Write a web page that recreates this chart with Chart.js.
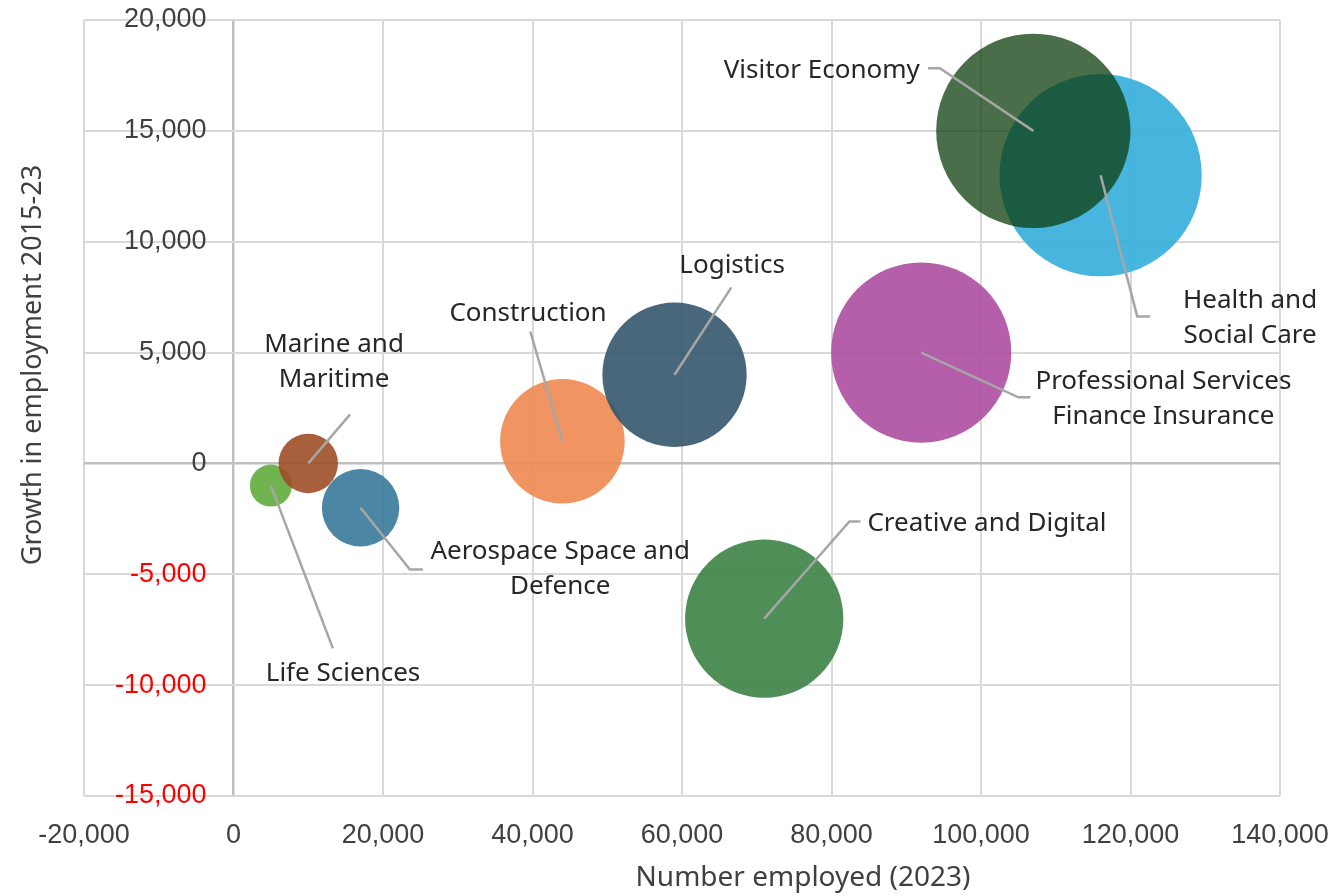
<!DOCTYPE html>
<html>
<head>
<meta charset="utf-8">
<script src="https://cdn.jsdelivr.net/npm/chart.js@4.4.1/dist/chart.umd.min.js"></script>
<style>
  body { margin: 0; background: #fff; }
  #wrap { width: 1333px; height: 896px; }
</style>
</head>
<body>
<div id="wrap"><canvas id="myChart"></canvas></div>
<script>
//data block
const sectors = ['Life Sciences', 'Marine and Maritime', 'Aerospace Space and Defence', 'Construction',
  'Logistics', 'Creative and Digital', 'Professional Services Finance Insurance',
  'Health and Social Care', 'Visitor Economy'];
const employed = [5000, 10000, 17000, 44000, 59000, 71000, 92000, 116000, 107000];
const growth = [-1000, 0, -2000, 1000, 4000, -7000, 5000, 13000, 15000];

//style block
const colors = [
  'rgba(96, 172, 60, 0.9)',
  'rgba(158, 78, 38, 0.9)',
  'rgba(55, 122, 155, 0.9)',
  'rgba(238, 136, 80, 0.9)',
  'rgba(52, 87, 107, 0.9)',
  'rgba(60, 130, 69, 0.9)',
  'rgba(173, 76, 160, 0.9)',
  'rgba(52, 173, 218, 0.9)',
  'rgba(14, 62, 14, 0.75)'
];
// label text, label centre and leader elbow in axis units, stub in px
const labelLayout = [
  {lines: ['Life Sciences'], lx: 14650, ly: -9470, ex: 13300, ey: -8340, stub: 0},
  {lines: ['Marine and', 'Maritime'], lx: 13450, ly: 4550, ex: 15600, ey: 2210, stub: 0},
  {lines: ['Aerospace Space and', 'Defence'], lx: 43700, ly: -4780, ex: 23600, ey: -4780, stub: 13},
  {lines: ['Construction'], lx: 39400, ly: 6770, ex: 39700, ey: 5950, stub: 0},
  {lines: ['Logistics'], lx: 66700, ly: 8930, ex: 66600, ey: 7940, stub: 0},
  {lines: ['Creative and Digital'], lx: 100800, ly: -2700, ex: 82400, ey: -2620, stub: 11},
  {lines: ['Professional Services', 'Finance Insurance'], lx: 124400, ly: 2890, ex: 105000, ey: 2980, stub: 12},
  {lines: ['Health and', 'Social Care'], lx: 136000, ly: 6540, ex: 120900, ey: 6630, stub: 13},
  {lines: ['Visitor Economy'], lx: 78700, ly: 17720, ex: 94500, ey: 17820, stub: -12}
];

const labelFont = '26px "Noto Sans"';
const tickFont = '27px "Liberation Sans"';

// no extra chart-area padding for the bubble radius
Chart.BubbleController.prototype.getMaxOverflow = function () { return false; };

const data = {
  labels: sectors,
  datasets: [{
    data: employed.map((v, i) => ({x: v, y: growth[i], r: Math.sqrt(v) * 0.297})),
    backgroundColor: colors,
    borderWidth: 0,
    hoverRadius: 0
  }]
};

//custom drawing: y tick labels at x=0, axis titles, leader lines + labels
const bubbleLabels = {
  id: 'bubbleLabels',
  afterDatasetsDraw(chart) {
    const {ctx, scales: {x, y}} = chart;
    const pts = chart.getDatasetMeta(0).data;
    ctx.save();
    labelLayout.forEach((lab, i) => {
      const cx = pts[i].x, cy = pts[i].y;
      const ex = x.getPixelForValue(lab.ex), ey = y.getPixelForValue(lab.ey);
      ctx.strokeStyle = '#a6a6a6';
      ctx.lineWidth = 2.5;
      ctx.beginPath();
      ctx.moveTo(cx, cy);
      ctx.lineTo(ex, ey);
      if (lab.stub) ctx.lineTo(ex + lab.stub, ey);
      ctx.stroke();

      ctx.font = labelFont;
      ctx.fillStyle = '#262626';
      ctx.textAlign = 'center';
      ctx.textBaseline = 'middle';
      const lx = x.getPixelForValue(lab.lx), ly = y.getPixelForValue(lab.ly);
      const lh = 35;
      const top = ly - (lab.lines.length - 1) * lh / 2;
      lab.lines.forEach((t, k) => ctx.fillText(t, lx, top + k * lh));
    });
    ctx.restore();
  },
  afterDraw(chart) {
    const {ctx, scales: {x, y}} = chart;
    ctx.save();
    ctx.font = tickFont;
    ctx.textAlign = 'right';
    ctx.textBaseline = 'middle';
    const x0 = x.getPixelForValue(0);
    y.ticks.forEach(t => {
      ctx.fillStyle = t.value < 0 ? '#ff0000' : '#404040';
      ctx.fillText(t.value.toLocaleString('en-US'), x0 - 27, y.getPixelForValue(t.value));
    });

    ctx.font = '28px "Noto Sans"';
    ctx.fillStyle = '#404040';
    ctx.textAlign = 'center';
    ctx.fillText('Number employed (2023)', 803, 878);
    ctx.font = '27px "Noto Sans"';
    ctx.translate(33, 365);
    ctx.rotate(-Math.PI / 2);
    ctx.fillText('Growth in employment 2015-23', 0, 0);
    ctx.restore();
  }
};

const gridColor = c => c.tick && c.tick.value === 0 ? '#bfbfbf' : '#d9d9d9';
const gridWidth = c => c.tick && c.tick.value === 0 ? 2.5 : 2;

//options block
const options = {
  responsive: true,
  maintainAspectRatio: false,
  animation: false,
  layout: {padding: {top: 20, right: 53, left: 0, bottom: 0}},
  plugins: {
    legend: {display: false},
    tooltip: {enabled: false}
  },
  scales: {
    x: {
      type: 'linear',
      min: -20000,
      max: 140000,
      ticks: {
        stepSize: 20000,
        color: '#404040',
        font: {family: 'Liberation Sans', size: 27},
        padding: 2,
        maxRotation: 0,
        callback: v => v.toLocaleString('en-US')
      },
      grid: {color: gridColor, lineWidth: gridWidth, drawTicks: true, tickLength: 21, tickColor: 'rgba(0,0,0,0)'},
      border: {display: false},
      afterFit(scale) { scale.height = 100; }
    },
    y: {
      type: 'linear',
      min: -15000,
      max: 20000,
      ticks: {stepSize: 5000, display: false},
      grid: {color: gridColor, lineWidth: gridWidth, drawTicks: false},
      border: {display: false},
      afterFit(scale) { scale.width = 84; }
    }
  }
};

//render block
const myChart = new Chart(document.getElementById('myChart'), {
  type: 'bubble',
  data,
  options,
  plugins: [bubbleLabels]
});
</script>
</body>
</html>
